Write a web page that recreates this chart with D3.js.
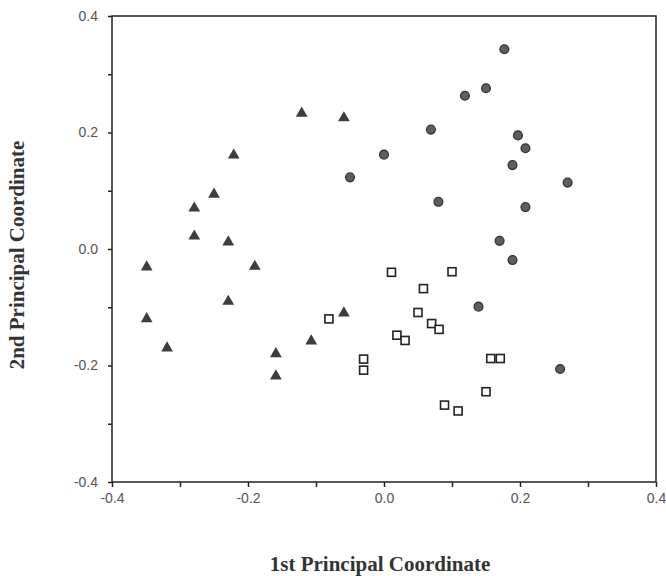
<!DOCTYPE html>
<html>
<head>
<meta charset="utf-8">
<script src="https://cdn.jsdelivr.net/npm/d3@7"></script>
<style>
  body { margin: 0; background: #fff; }
  svg { display: block; }
</style>
</head>
<body>
<div id="chart"></div>
<script>
// group 1: filled triangles
const triX = [-0.349, -0.349, -0.319, -0.279, -0.279, -0.250, -0.229, -0.221, -0.229, -0.190, -0.159, -0.159, -0.107, -0.121, -0.059, -0.059];
const triY = [-0.031, -0.120, -0.170, 0.070, 0.022, 0.094, 0.012, 0.161, -0.090, -0.030, -0.180, -0.218, -0.158, 0.233, 0.225, -0.110];

// group 2: filled circles
const dotX = [0.177, 0.150, 0.119, 0.069, 0.197, 0.208, 0.189, 0.270, 0.080, 0.208, 0.170, 0.189, 0.000, -0.050, 0.139, 0.259];
const dotY = [0.343, 0.276, 0.263, 0.205, 0.195, 0.173, 0.144, 0.114, 0.081, 0.072, 0.014, -0.019, 0.162, 0.123, -0.099, -0.206];

// group 3: open squares
const sqX = [0.011, 0.100, 0.058, -0.081, 0.050, 0.070, 0.081, 0.019, 0.031, -0.030, -0.030, 0.157, 0.171, 0.150, 0.089, 0.109];
const sqY = [-0.040, -0.039, -0.068, -0.120, -0.109, -0.128, -0.138, -0.148, -0.157, -0.189, -0.208, -0.188, -0.188, -0.245, -0.268, -0.278];

const tickVals = [-0.4, -0.3, -0.2, -0.1, 0.0, 0.1, 0.2, 0.3, 0.4];
const labelVals = [-0.4, -0.2, 0.0, 0.2, 0.4];
const xTitle = '1st Principal Coordinate';
const yTitle = '2nd Principal Coordinate';

const width = 666, height = 576;
const margin = { top: 16, right: 10, bottom: 94, left: 112 };

const svg = d3.select('#chart').append('svg')
  .attr('width', width)
  .attr('height', height);

const x = d3.scaleLinear().domain([-0.4, 0.4]).range([margin.left, width - margin.right]);
const y = d3.scaleLinear().domain([-0.4, 0.4]).range([height - margin.bottom, margin.top]);

// plain hyphen for negatives, labels only every 0.2
const fmt = v => labelVals.some(l => Math.abs(l - v) < 1e-9) ? v.toFixed(1) : '';

// frame
svg.append('rect')
  .attr('x', x(-0.4)).attr('y', y(0.4))
  .attr('width', x(0.4) - x(-0.4)).attr('height', y(-0.4) - y(0.4))
  .attr('fill', 'none').attr('stroke', '#222').attr('stroke-width', 1.5);

const xAxis = svg.append('g')
  .attr('transform', `translate(0,${y(-0.4)})`)
  .call(d3.axisBottom(x).tickValues(tickVals).tickFormat(fmt).tickSize(5).tickPadding(6));

const yAxis = svg.append('g')
  .attr('transform', `translate(${x(-0.4)},0)`)
  .call(d3.axisLeft(y).tickValues(tickVals).tickFormat(fmt).tickSize(4).tickPadding(10));

[xAxis, yAxis].forEach(g => {
  g.select('.domain').remove();
  g.selectAll('line').attr('stroke', '#222').attr('stroke-width', 1.5);
  g.selectAll('text')
    .attr('fill', '#555')
    .style('font-family', '"Liberation Sans", Arial, sans-serif')
    .style('font-size', '14px');
});

// markers
const tri = d3.symbol().type(d3.symbolTriangle).size(60);
svg.append('g').selectAll('path')
  .data(triX.map((v, i) => [v, triY[i]]))
  .join('path')
  .attr('d', tri)
  .attr('transform', d => `translate(${x(d[0])},${y(d[1])})`)
  .attr('fill', '#3d3d3d');

svg.append('g').selectAll('circle')
  .data(dotX.map((v, i) => [v, dotY[i]]))
  .join('circle')
  .attr('cx', d => x(d[0]))
  .attr('cy', d => y(d[1]))
  .attr('r', 4.4)
  .attr('fill', '#5e5e5e')
  .attr('stroke', '#333')
  .attr('stroke-width', 1.3);

const sq = 8;
svg.append('g').selectAll('rect')
  .data(sqX.map((v, i) => [v, sqY[i]]))
  .join('rect')
  .attr('x', d => x(d[0]) - sq / 2)
  .attr('y', d => y(d[1]) - sq / 2)
  .attr('width', sq).attr('height', sq)
  .attr('fill', '#fff')
  .attr('stroke', '#222')
  .attr('stroke-width', 1.6);

// titles
svg.append('text')
  .attr('x', (x(-0.4) + x(0.4)) / 2 - 4)
  .attr('y', 571)
  .attr('text-anchor', 'middle')
  .style('font-family', '"Liberation Serif", "Times New Roman", serif')
  .style('font-weight', 'bold')
  .style('font-size', '21px')
  .attr('fill', '#333')
  .text(xTitle);

svg.append('text')
  .attr('transform', `translate(24,${(y(-0.4) + y(0.4)) / 2 + 6}) rotate(-90)`)
  .attr('text-anchor', 'middle')
  .style('font-family', '"Liberation Serif", "Times New Roman", serif')
  .style('font-weight', 'bold')
  .style('font-size', '21px')
  .attr('fill', '#333')
  .text(yTitle);
</script>
</body>
</html>
